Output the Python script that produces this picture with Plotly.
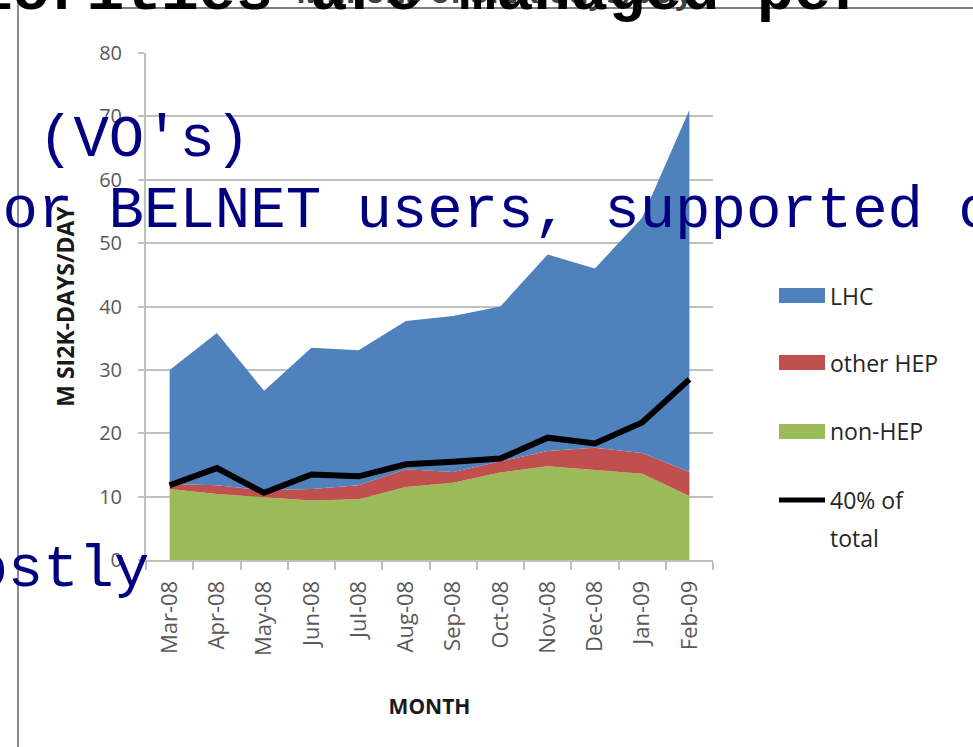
import plotly.graph_objects as go

# Monthly usage, millions of SI2K-days per day
months = ["Mar-08", "Apr-08", "May-08", "Jun-08", "Jul-08", "Aug-08",
          "Sep-08", "Oct-08", "Nov-08", "Dec-08", "Jan-09", "Feb-09"]
non_hep = [11.2, 10.4, 9.9, 9.4, 9.6, 11.5, 12.2, 13.8, 14.8, 14.2, 13.6, 10.1]
other_hep = [0.8, 1.4, 1.1, 1.8, 2.2, 2.8, 1.7, 1.8, 2.4, 3.5, 3.3, 3.8]
lhc = [18.0, 24.0, 15.7, 22.3, 21.3, 23.4, 24.6, 24.4, 31.0, 28.3, 37.1, 57.1]
forty_pct = [11.8, 14.5, 10.6, 13.5, 13.2, 15.1, 15.5, 16.0, 19.3, 18.4, 21.7, 28.5]

y_ticks = [0, 10, 20, 30, 40, 50, 60, 70, 80]

series_names = ["LHC", "other HEP", "non-HEP"]
series_colors = {"LHC": "#4F81BD", "other HEP": "#C0504D", "non-HEP": "#9BBB59"}
line_name = ["40% of", "total"]

# Page geometry (pixels) and helpers to convert into paper coordinates
W, H = 973, 747
ML, MR, MT, MB = 146, 260, 53, 187
PW = W - ML - MR
PH = H - MT - MB


def fx(px):
    return (px - ML) / PW


def fy(py):
    return (H - MB - py) / PH


SANS = "Open Sans"
MONO = "Liberation Mono"

fig = go.Figure()

for name, values in [("non-HEP", non_hep), ("other HEP", other_hep), ("LHC", lhc)]:
    fig.add_trace(go.Scatter(
        x=months, y=values, name=name, stackgroup="vo", mode="lines",
        line=dict(width=0, color=series_colors[name]),
        fillcolor=series_colors[name], showlegend=False,
    ))

fig.add_trace(go.Scatter(
    x=months, y=forty_pct, name=" ".join(line_name), mode="lines",
    line=dict(width=6, color="black"), showlegend=False,
))


def mono_text(text, x, baseline, anchor, size=58, color="#000080", bold=False):
    # Centre of the text box sits ~0.267 em above the baseline for this font
    return dict(
        text=text, xref="paper", yref="paper", x=fx(x), y=fy(baseline - 0.267 * size),
        xanchor=anchor, yanchor="middle", showarrow=False,
        font=dict(family=MONO, size=size, color=color,
                  weight="bold" if bold else "normal"),
    )


annotations = [
    # chart title, mostly above the visible page
    dict(text="<b>Millions of SI2K-days/day</b>", xref="paper", yref="paper",
         x=fx(495), y=fy(-10), xanchor="center", yanchor="middle",
         showarrow=False, font=dict(family=SANS, size=32, color="#404040")),
    mono_text("priorities are managed per", 870, 9, "right", size=62,
              color="black", bold=True),
    mono_text("(VO's)", 36, 156, "left", size=59),
    mono_text("for BELNET users, supported computing", -35, 227, "left", size=59),
    mono_text("mostly", 151, 586, "right", size=59),
]

shapes = [
    dict(type="line", xref="paper", yref="paper", x0=fx(18), x1=fx(18),
         y0=fy(0), y1=fy(H), line=dict(color="#8c8c8c", width=2)),
    dict(type="line", xref="paper", yref="paper", x0=fx(118), x1=fx(W),
         y0=fy(8), y1=fy(8), line=dict(color="#7f7f7f", width=2)),
]

# Legend: colour swatches and labels at the right of the plot
legend_font = dict(family=SANS, size=23, color="#262626")
swatch_x0, swatch_x1, text_x = 779, 825, 828
for name, yc in zip(series_names, [295.5, 362.5, 431.5]):
    shapes.append(dict(type="rect", xref="paper", yref="paper",
                       x0=fx(swatch_x0), x1=fx(swatch_x1),
                       y0=fy(yc - 7.5), y1=fy(yc + 7.5),
                       fillcolor=series_colors[name], line=dict(width=0)))
    annotations.append(dict(text=name, xref="paper", yref="paper",
                            x=fx(text_x), y=fy(yc), xanchor="left", yanchor="middle",
                            showarrow=False, font=legend_font))
shapes.append(dict(type="line", xref="paper", yref="paper",
                   x0=fx(swatch_x0), x1=fx(swatch_x1), y0=fy(500), y1=fy(500),
                   line=dict(color="black", width=5)))
for part, yc in zip(line_name, [500, 538]):
    annotations.append(dict(text=part, xref="paper", yref="paper",
                            x=fx(text_x), y=fy(yc), xanchor="left", yanchor="middle",
                            showarrow=False, font=legend_font))

fig.update_layout(
    width=W, height=H,
    margin=dict(l=ML, r=MR, t=MT, b=MB, pad=0),
    paper_bgcolor="white", plot_bgcolor="white",
    showlegend=False,
    xaxis=dict(
        type="category", categoryorder="array", categoryarray=months,
        range=[-0.5, len(months) - 0.5], tickson="boundaries",
        ticks="outside", ticklen=8, tickwidth=2, tickcolor="#bfbfbf",
        showline=True, linecolor="#bfbfbf", linewidth=2, showgrid=False,
        tickangle=-90, ticklabelstandoff=10,
        tickfont=dict(family=SANS, size=22, color="#595959"),
        title=dict(text="<b>MONTH</b>", standoff=44,
                   font=dict(family=SANS, size=21, color="#1a1a1a")),
    ),
    yaxis=dict(
        range=[0, 80], tickvals=y_ticks, showgrid=True, gridcolor="#bfbfbf",
        gridwidth=2, zeroline=False, showline=True, linecolor="#bfbfbf",
        linewidth=2, ticks="outside", ticklen=6, tickwidth=2, tickcolor="#bfbfbf",
        ticklabelstandoff=12,
        tickfont=dict(family=SANS, size=20, color="#595959"),
        title=dict(text="<b>M SI2K-DAYS/DAY</b>", standoff=18,
                   font=dict(family=SANS, size=23, color="#1a1a1a")),
    ),
    annotations=annotations,
    shapes=shapes,
)

fig.write_html("out.html")
